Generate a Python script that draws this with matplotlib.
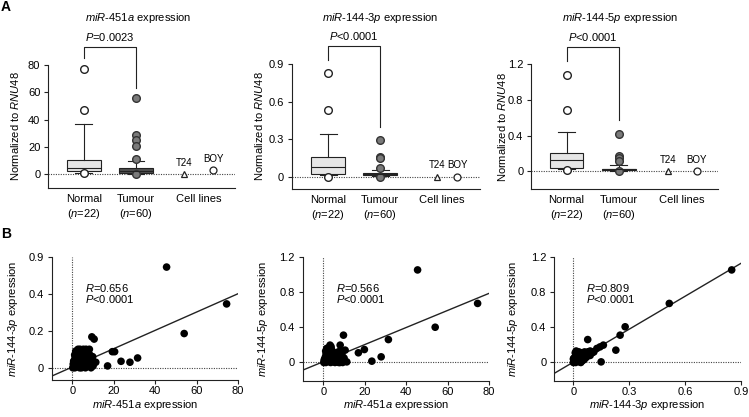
import numpy as np
import matplotlib
matplotlib.use("Agg")
import matplotlib.pyplot as plt

plt.rcParams["font.family"] = ["Liberation Sans", "DejaVu Sans"]
plt.rcParams["mathtext.fontset"] = "custom"
plt.rcParams["mathtext.rm"] = "Liberation Sans"
plt.rcParams["mathtext.it"] = "Liberation Sans:italic"
plt.rcParams["font.size"] = 8

# ---- panel A: box stats [whislo, q1, med, q3, whishi] + outliers ----
normal_451a = [1.0, 2.5, 4.5, 10.5, 36.5]
normal_451a_out = [77.0, 47.0, 0.8]
tumour_451a = [0.3, 1.0, 2.5, 4.8, 9.5]
tumour_451a_out = [55.5, 28.8, 24.8, 20.5, 11.0, 0.2]
cells_451a = [0.3, 3.2]          # T24, BOY

normal_3p = [0.01, 0.02, 0.08, 0.155, 0.34]
normal_3p_out = [0.83, 0.535, 0.0]
tumour_3p = [0.005, 0.012, 0.02, 0.03, 0.05]
tumour_3p_out = [0.29, 0.16, 0.145, 0.065, 0.0]
cells_3p = [0.0, 0.0]

normal_5p = [0.02, 0.04, 0.125, 0.2, 0.435]
normal_5p_out = [1.08, 0.69, 0.01]
tumour_5p = [0.005, 0.01, 0.02, 0.03, 0.065]
tumour_5p_out = [0.415, 0.175, 0.145, 0.11, 0.0]
cells_5p = [0.0, 0.0]

p_texts = ["=0.0023", "<0.0001", "<0.0001"]

# ---- panel B: scatter values ----
b1_x = [45.5, 74.5, 54.0, 31.5, 27.8, 23.5, 17.0, 19.3, 20.4, 9.4, 10.5, 11.3,
        0.2, 0.5, 0.8, 1.0, 1.2, 1.5, 1.7, 2.0, 2.2, 2.5, 2.7, 3.0, 3.2, 3.5, 3.7,
        4.0, 4.2, 4.5, 4.8, 5.0, 5.3, 5.6, 6.0, 6.3, 6.6, 7.0, 7.4, 7.8, 8.2, 8.6,
        9.0, 9.3, 9.8, 10.0, 1.3, 2.3, 3.4, 0.6, 5.8, 6.8, 8.0, 4.4, 2.9,
        0.9, 1.8, 2.6, 3.9, 4.6, 5.2, 5.9, 6.4, 7.2, 7.6, 8.4, 8.9, 1.1, 2.1, 3.1,
        0.4, 1.6, 4.9, 6.1, 9.6]
b1_y = [0.76, 0.345, 0.185, 0.053, 0.030, 0.035, 0.010, 0.087, 0.087, 0.167, 0.155, 0.030,
        0.0, 0.005, 0.01, 0.02, 0.0, 0.03, 0.05, 0.08, 0.01, 0.04, 0.1, 0.06, 0.02, 0.0, 0.1,
        0.045, 0.03, 0.07, 0.01, 0.055, 0.1, 0.02, 0.04, 0.0, 0.1, 0.03, 0.05, 0.01, 0.1, 0.045,
        0.0, 0.03, 0.06, 0.01, 0.06, 0.07, 0.085, 0.035, 0.075, 0.06, 0.02, 0.0, 0.025,
        0.04, 0.015, 0.055, 0.075, 0.05, 0.035, 0.01, 0.065, 0.085, 0.025, 0.07, 0.05, 0.07,
        0.035, 0.045, 0.02, 0.09, 0.09, 0.055, 0.04]

b2_x = [45.5, 74.5, 54.0, 31.4, 27.9, 23.4, 19.8, 16.9, 9.7, 3.2, 8.1, 10.5, 11.3,
        0.2, 0.5, 0.8, 1.0, 1.2, 1.5, 1.7, 2.0, 2.2, 2.5, 2.7, 3.0, 3.3, 3.5, 3.7,
        4.0, 4.2, 4.5, 4.8, 5.0, 5.3, 5.6, 6.0, 6.3, 6.6, 7.0, 7.4, 7.8, 8.2, 8.6,
        9.0, 9.3, 10.0, 1.3, 2.3, 3.4, 0.6, 5.8, 6.8, 8.0, 4.4, 2.9,
        0.9, 1.8, 2.6, 3.9, 4.6, 5.2, 5.9, 6.4, 7.2, 7.6, 8.4, 8.9, 1.1, 2.1, 3.1,
        0.4, 1.6, 4.9, 6.1, 9.6]
b2_y = [1.05, 0.67, 0.40, 0.26, 0.064, 0.015, 0.147, 0.11, 0.31, 0.197, 0.197, 0.14, 0.007,
        0.0, 0.01, 0.02, 0.05, 0.0, 0.08, 0.12, 0.15, 0.03, 0.1, 0.17, 0.06, 0.14, 0.0, 0.18,
        0.05, 0.09, 0.12, 0.01, 0.07, 0.03, 0.0, 0.09, 0.02, 0.11, 0.04, 0.0, 0.06, 0.13, 0.02,
        0.08, 0.0, 0.05, 0.1, 0.06, 0.04, 0.03, 0.01, 0.07, 0.0, 0.02, 0.13,
        0.06, 0.02, 0.11, 0.15, 0.07, 0.04, 0.01, 0.08, 0.12, 0.03, 0.09, 0.05, 0.13,
        0.09, 0.12, 0.03, 0.16, 0.1, 0.05, 0.02]

b3_x = [0.85, 0.515, 0.278, 0.251, 0.077, 0.228, 0.149, 0.161, 0.143, 0.126, 0.107,
        0.0, 0.005, 0.01, 0.012, 0.015, 0.02, 0.02, 0.025, 0.03, 0.03, 0.035, 0.04, 0.04,
        0.045, 0.05, 0.05, 0.055, 0.06, 0.06, 0.065, 0.07, 0.075, 0.08, 0.085, 0.09, 0.095,
        0.01, 0.02, 0.03, 0.04, 0.05, 0.06, 0.07, 0.0, 0.015, 0.025, 0.035, 0.045, 0.055,
        0.008, 0.018, 0.028, 0.038, 0.048, 0.058, 0.068, 0.078, 0.088, 0.022, 0.032,
        0.042, 0.052, 0.062, 0.072, 0.012, 0.003, 0.1, 0.11, 0.09]
b3_y = [1.05, 0.67, 0.405, 0.31, 0.26, 0.14, 0.007, 0.197, 0.177, 0.159, 0.12,
        0.0, 0.02, 0.05, 0.0, 0.08, 0.03, 0.1, 0.06, 0.01, 0.12, 0.04, 0.07, 0.0,
        0.09, 0.05, 0.11, 0.03, 0.08, 0.12, 0.06, 0.1, 0.09, 0.11, 0.12, 0.13, 0.12,
        0.11, 0.07, 0.09, 0.02, 0.1, 0.04, 0.06, 0.04, 0.13, 0.02, 0.06, 0.03, 0.08,
        0.03, 0.09, 0.11, 0.05, 0.02, 0.1, 0.09, 0.12, 0.1, 0.06, 0.08,
        0.11, 0.07, 0.05, 0.08, 0.07, 0.05, 0.11, 0.12, 0.08]

b_fit_x = [[-10, 80], [-10, 80], [-0.104, 0.9]]
b_fit_y = [[-0.045, 0.40], [-0.087, 0.784], [-0.125, 1.125]]
b_r = ["0.656", "0.566", "0.809"]

W, H = 749, 417
fig = plt.figure(figsize=(W / 100, H / 100), dpi=100)


def px_axes(l, r, t, b):
    return fig.add_axes([l / W, 1 - b / H, (r - l) / W, (b - t) / H])


def style(ax):
    for s in ["top", "right"]:
        ax.spines[s].set_visible(False)
    for s in ["left", "bottom"]:
        ax.spines[s].set_linewidth(0.8)
        ax.spines[s].set_color("#222222")


def stats(v, out):
    return dict(whislo=v[0], q1=v[1], med=v[2], q3=v[3], whishi=v[4], fliers=out)


# ---------------- row A ----------------
a_geom = [(48, 235, 65, 188), (291.7, 480, 64, 189), (531, 718, 64.3, 189)]
a_lims = [(0.31, 3.9, -10, 80), (0.30, 3.92, -0.1, 0.9), (0.32, 3.90, -0.2, 1.2)]
a_cellpos = [(2.92, 3.48), (3.10, 3.48), (2.94, 3.49)]
a_celltick = [3.21, 3.19, 3.21]
a_yticks = [[0, 20, 40, 60, 80], [0, 0.3, 0.6, 0.9], [0, 0.4, 0.8, 1.2]]
a_ylabels = [["0", "20", "40", "60", "80"], ["0", "0.3", "0.6", "0.9"], ["0", "0.4", "0.8", "1.2"]]
a_bracket = [(85, 93.3, 63), (0.933, 1.045, 0.40), (1.236, 1.397, 0.573)]
a_titles = [r"$\it{miR}$-$\it{451a}$ expression", r"$\it{miR}$-$\it{144}$-$\it{3p}$ expression",
            r"$\it{miR}$-$\it{144}$-$\it{5p}$ expression"]
a_title_x = [138, 380, 620]
a_ylab_x = [15, 259, 502]
a_data = [(normal_451a, normal_451a_out, tumour_451a, tumour_451a_out, cells_451a),
          (normal_3p, normal_3p_out, tumour_3p, tumour_3p_out, cells_3p),
          (normal_5p, normal_5p_out, tumour_5p, tumour_5p_out, cells_5p)]

for i in range(3):
    l, r, t, b = a_geom[i]
    ax = px_axes(l, r, t, b)
    style(ax)
    nv, no, tv, to, cv = a_data[i]
    ax.axhline(0, color="#444444", ls=(0, (1, 1.2)), lw=0.8, zorder=1)
    common = dict(widths=0.65, patch_artist=True,
                  whiskerprops=dict(color="#222222", lw=0.8),
                  capprops=dict(color="#222222", lw=0.8),
                  medianprops=dict(color="#222222", lw=0.8))
    ax.bxp([stats(nv, no)], positions=[1],
           boxprops=dict(facecolor="#e6e6e6", edgecolor="#222222", lw=0.8),
           flierprops=dict(marker="o", mfc="white", mec="#222222", ms=5.5, mew=1.0),
           **common)
    ax.bxp([stats(tv, to)], positions=[2],
           boxprops=dict(facecolor="#505050", edgecolor="#222222", lw=0.8),
           flierprops=dict(marker="o", mfc="#7a7a7a", mec="#333333", ms=5.5, mew=1.0),
           **common)
    tp, bp = a_cellpos[i]
    ax.plot([tp], [cv[0]], marker="^", mfc="white", mec="#222222", ms=5, mew=0.9, ls="none", zorder=3)
    ax.plot([bp], [cv[1]], marker="o", mfc="white", mec="#222222", ms=5, mew=0.9, ls="none", zorder=3)
    ax.annotate("T24", (tp, cv[0]), xytext=(0, 8), textcoords="offset points",
                ha="center", va="center", fontsize=7)
    ax.annotate("BOY", (bp, cv[1]), xytext=(0, 8), textcoords="offset points",
                ha="center", va="center", fontsize=7)

    x0, x1, y0, y1 = a_lims[i]
    ax.set_xlim(x0, x1)
    ax.set_ylim(y0, y1)
    ax.spines["left"].set_bounds(y0, y1)
    ax.set_yticks(a_yticks[i])
    ax.set_yticklabels(a_ylabels[i])
    ax.set_xticks([1, 2, a_celltick[i]])
    ax.set_xticklabels(["Normal\n($\\it{n}$=22)", "Tumour\n($\\it{n}$=60)", "Cell lines"],
                       linespacing=1.3, va="top")
    ax.tick_params(axis="x", length=0, pad=4.5)
    ax.tick_params(axis="y", length=3, width=0.8, pad=2.5, color="#222222")
    ax.set_ylabel(r"Normalized to $\it{RNU48}$")
    ax.yaxis.label.set_va("center")
    ax.yaxis.set_label_coords(-(l - a_ylab_x[i]) / (r - l), 0.5)

    ly, top, ry = a_bracket[i]
    ax.plot([1, 1, 2, 2], [ly, top, top, ry], color="#222222", lw=0.8, clip_on=False)
    ax.annotate(r"$\it{P}$" + p_texts[i], (1.5, top), xytext=(0, 7), textcoords="offset points",
                ha="center", va="center", annotation_clip=False)
    fig.text(a_title_x[i] / W, 1 - 18 / H, a_titles[i], ha="center", va="center")

# ---------------- row B ----------------
seg_v = [0.0, 0.2, 0.4, 0.9]
seg_t = [0.0, 1.0, 2.0, 3.0]


def seg_fwd(v):
    v = np.asarray(v, dtype=float)
    out = np.interp(v, seg_v, seg_t)
    out = np.where(v < 0, v / 0.2, out)
    out = np.where(v > 0.9, 3 + (v - 0.9) / 0.5, out)
    return out


def seg_inv(t):
    t = np.asarray(t, dtype=float)
    out = np.interp(t, seg_t, seg_v)
    out = np.where(t < 0, t * 0.2, out)
    out = np.where(t > 3, 0.9 + (t - 3) * 0.5, out)
    return out


b_geom = [(51.7, 238, 256.7, 380), (302.7, 489, 256.7, 381), (554, 741, 256.7, 381)]
b_lims = [(-10, 80, -0.066, 0.9), (-10, 80, -0.21, 1.2), (-0.104, 0.9, -0.21, 1.2)]
b_xticks = [([0, 20, 40, 60, 80], ["0", "20", "40", "60", "80"]),
            ([0, 20, 40, 60, 80], ["0", "20", "40", "60", "80"]),
            ([0, 0.3, 0.6, 0.9], ["0", "0.3", "0.6", "0.9"])]
b_yticks = [([0, 0.2, 0.4, 0.9], ["0", "0.2", "0.4", "0.9"]),
            ([0, 0.4, 0.8, 1.2], ["0", "0.4", "0.8", "1.2"]),
            ([0, 0.4, 0.8, 1.2], ["0", "0.4", "0.8", "1.2"])]
b_xlab = [r"$\it{miR}$-$\it{451a}$ expression", r"$\it{miR}$-$\it{451a}$ expression",
          r"$\it{miR}$-$\it{144}$-$\it{3p}$ expression"]
b_ylab = [r"$\it{miR}$-$\it{144}$-$\it{3p}$ expression", r"$\it{miR}$-$\it{144}$-$\it{5p}$ expression",
          r"$\it{miR}$-$\it{144}$-$\it{5p}$ expression"]
b_ylab_x = [13, 263, 513]
b_text_x = [0.179, 0.179, 0.171]
b_pts = [(b1_x, b1_y), (b2_x, b2_y), (b3_x, b3_y)]

for i in range(3):
    l, r, t, b = b_geom[i]
    ax = px_axes(l, r, t, b)
    style(ax)
    if i == 0:
        ax.set_yscale("function", functions=(seg_fwd, seg_inv))
    x0, x1, y0, y1 = b_lims[i]
    ax.axhline(0, color="#444444", ls=(0, (1, 1.2)), lw=0.8, zorder=1)
    ax.axvline(0, color="#444444", ls=(0, (1, 1.2)), lw=0.8, zorder=1)
    ax.plot(b_fit_x[i], b_fit_y[i], color="#222222", lw=1.0, zorder=2)
    ax.scatter(b_pts[i][0], b_pts[i][1], s=30, color="black", edgecolors="none", zorder=3)
    ax.set_xlim(x0, x1)
    ax.set_ylim(y0, y1)
    ax.set_xticks(b_xticks[i][0])
    ax.set_xticklabels(b_xticks[i][1])
    ax.set_yticks(b_yticks[i][0])
    ax.set_yticklabels(b_yticks[i][1])
    ax.minorticks_off()
    ax.tick_params(length=3, width=0.8, pad=2.5, color="#222222")
    ax.tick_params(axis="x", pad=1.5)
    ax.set_xlabel(b_xlab[i])
    ax.xaxis.label.set_va("center")
    ax.xaxis.set_label_coords(0.5, -(405.5 - b) / (b - t))
    ax.set_ylabel(b_ylab[i])
    ax.yaxis.label.set_va("center")
    ax.yaxis.set_label_coords(-(l - b_ylab_x[i]) / (r - l), 0.5)
    ax.text(b_text_x[i], 0.75, r"$\it{R}$=" + b_r[i], transform=ax.transAxes, ha="left", va="center")
    ax.text(b_text_x[i], 0.656, r"$\it{P}$<0.0001", transform=ax.transAxes, ha="left", va="center")

fig.text(1 / W, 1 - 7 / H, "A", fontsize=10, fontweight="bold", ha="left", va="center")
fig.text(1 / W, 1 - 234 / H, "B", fontsize=10, fontweight="bold", ha="left", va="center")

fig.savefig("out.png", dpi=100)
